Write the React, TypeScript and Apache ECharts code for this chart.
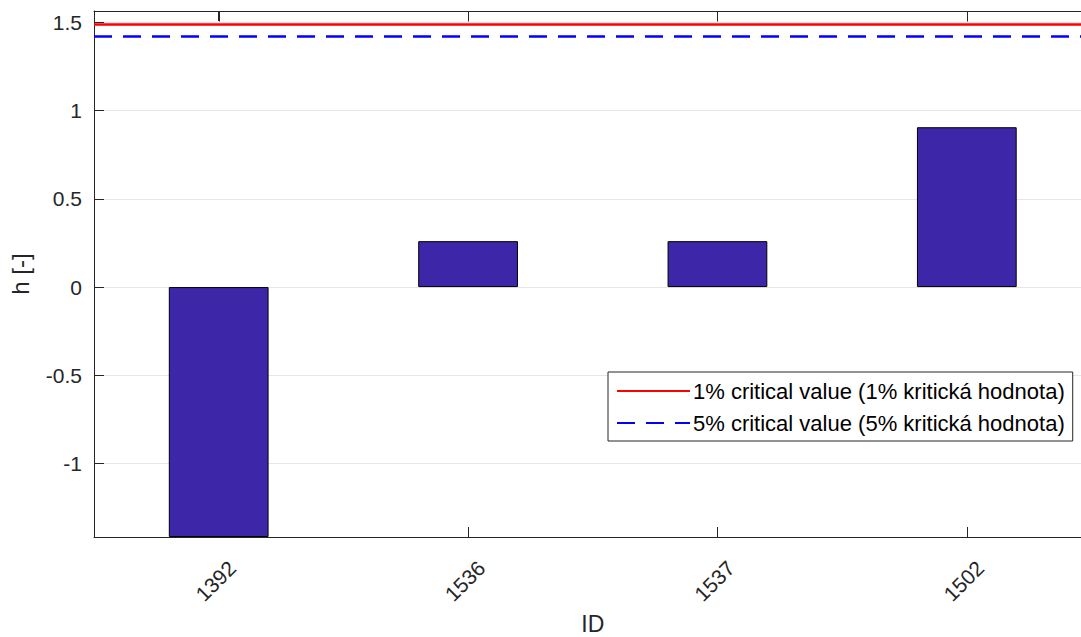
import React, { useEffect, useRef } from "react";
import * as echarts from "echarts";

// Station IDs and their test statistic h
const categories: string[] = ["1392", "1536", "1537", "1502"];
const hValues: number[] = [-1.415, 0.26, 0.26, 0.905];

// Critical values of the test
const critical1: number = 1.487;
const critical5: number = 1.417;

const legend1 = "1% critical value (1% kritická hodnota)";
const legend5 = "5% critical value (5% kritická hodnota)";

const yMin = -1.415;
const yMax = 1.563;

const FONT = "'Liberation Sans', Arial, Helvetica, sans-serif";
const INK = "#262626";

// Plot box is a little wider than the visible frame; its right edge falls outside.
const CHART_W = 1092;
const CHART_H = 637;
const GRID = { left: 94, top: 11, right: 0.5, bottom: 100 };
const TICK_PX = 10;

export default function App() {
  const ref = useRef<HTMLDivElement>(null);

  useEffect(() => {
    if (!ref.current) return;
    const chart = echarts.init(ref.current, undefined, { renderer: "svg" });

    const option: echarts.EChartsCoreOption = {
      animation: false,
      backgroundColor: "#ffffff",
      textStyle: { fontFamily: FONT, color: INK },
      grid: {
        ...GRID,
        containLabel: false,
        outerBoundsMode: "none",
      },
      legend: {
        orient: "vertical",
        left: 608,
        top: 372,
        padding: [8, 8, 7, 8],
        itemGap: 10,
        itemWidth: 73,
        itemHeight: 16,
        backgroundColor: "#ffffff",
        borderColor: INK,
        borderWidth: 1,
        borderRadius: 0,
        itemStyle: { color: "rgba(0,0,0,0)", borderWidth: 0, opacity: 0 },
        textStyle: { fontFamily: FONT, fontSize: 22, color: "#000000", padding: [0, 0, 0, -2] },
        data: [legend1, legend5],
      },
      xAxis: [
        {
          type: "category",
          data: categories,
          position: "bottom",
          name: "ID",
          nameLocation: "middle",
          nameGap: 74,
          nameTextStyle: { fontFamily: FONT, fontSize: 23, color: INK },
          axisLine: { show: true, onZero: false, lineStyle: { color: INK, width: 1 } },
          axisTick: { show: true, inside: true, length: TICK_PX, alignWithLabel: true, lineStyle: { color: INK } },
          axisLabel: {
            rotate: 45,
            fontFamily: FONT,
            fontSize: 21,
            color: INK,
            margin: 14,
            verticalAlign: "top",
            lineHeight: 24,
            padding: [7, 0, 0, 0],
          },
          splitLine: { show: false },
        },
        {
          type: "category",
          data: categories,
          position: "top",
          axisLine: { show: true, onZero: false, lineStyle: { color: INK, width: 1 } },
          axisTick: { show: true, inside: true, length: TICK_PX, alignWithLabel: true, lineStyle: { color: INK } },
          axisLabel: { show: false },
          splitLine: { show: false },
        },
      ],
      yAxis: {
        type: "value",
        min: yMin,
        max: yMax,
        splitNumber: 6,
        name: "h [-]",
        nameLocation: "middle",
        nameGap: 62,
        nameTextStyle: { fontFamily: FONT, fontSize: 24, color: INK },
        axisLine: { show: true, lineStyle: { color: INK, width: 1 } },
        axisTick: { show: true, inside: true, length: TICK_PX, lineStyle: { color: INK } },
        axisLabel: {
          fontFamily: FONT,
          fontSize: 21,
          color: INK,
          margin: 12,
          showMinLabel: false,
          showMaxLabel: false,
          formatter: (v: number) => {
            const k = Math.round(v * 2);
            return Math.abs(v * 2 - k) < 1e-6 ? String(k / 2) : "";
          },
        },
        splitLine: { show: true, lineStyle: { color: "#e6e6e6" } },
      },
      series: [
        {
          type: "bar",
          name: "h",
          data: hValues,
          barWidth: "40%",
          itemStyle: { color: "#3e26a8", borderColor: "#000000", borderWidth: 1 },
          z: 2,
        },
        {
          type: "line",
          name: legend1,
          xAxisIndex: 1,
          data: [],
          symbol: "none",
          color: "#ff0000",
          lineStyle: { color: "#ff0000", width: 2.5, type: "solid" },
          markLine: {
            silent: true,
            symbol: "none",
            label: { show: false },
            lineStyle: { color: "#ff0000", width: 2.5, type: "solid" },
            data: [{ yAxis: critical1 }],
          },
          z: 4,
        },
        {
          type: "line",
          name: legend5,
          xAxisIndex: 1,
          data: [],
          symbol: "none",
          color: "#0000ff",
          lineStyle: { color: "#0000ff", width: 2.5, type: [18, 11] },
          markLine: {
            silent: true,
            symbol: "none",
            label: { show: false },
            lineStyle: { color: "#0000ff", width: 2.5, type: [18, 11] },
            data: [{ yAxis: critical5 }],
          },
          z: 4,
        },
      ],
    };

    chart.setOption(option);

    // Top edge of the box with its inward ticks, placed through the axis scales.
    const topY = Math.round(chart.convertToPixel({ yAxisIndex: 0 }, yMax) as number) + 0.5;
    const leftX = chart.convertToPixel({ xAxisIndex: 0 }, categories[0]) as number;
    const frame: any[] = [
      {
        type: "line",
        z: 50,
        silent: true,
        shape: { x1: GRID.left, y1: topY, x2: CHART_W, y2: topY },
        style: { stroke: INK, lineWidth: 1 },
      },
    ];
    categories.forEach((c) => {
      const x = Math.round(chart.convertToPixel({ xAxisIndex: 0 }, c) as number) + 0.5;
      frame.push({
        type: "line",
        z: 50,
        silent: true,
        shape: { x1: x, y1: topY, x2: x, y2: topY + TICK_PX },
        style: { stroke: INK, lineWidth: 1 },
      });
    });
    if (Number.isFinite(topY) && Number.isFinite(leftX)) {
      chart.setOption({ graphic: frame });
    }

    return () => chart.dispose();
  }, []);

  return (
    <div
      style={{ position: "fixed", left: 0, top: 0, width: 1081, height: CHART_H, overflow: "hidden", background: "#fff" }}
    >
      <div ref={ref} style={{ width: CHART_W, height: CHART_H }} />
    </div>
  );
}
